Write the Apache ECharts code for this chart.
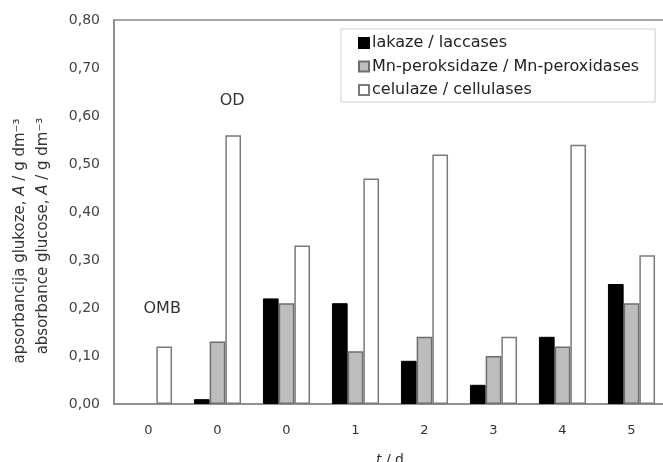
<!DOCTYPE html>
<html>
<head>
<meta charset="utf-8">
<script src="https://cdn.jsdelivr.net/npm/echarts@6/dist/echarts.min.js"></script>
<style>html,body{margin:0;padding:0;background:#fff;overflow:hidden;}#c{width:663px;height:462px;}</style>
</head>
<body>
<div id="c"></div>
<script>
const categories = ['0', '0', '0', '1', '2', '3', '4', '5'];
const laccases = [null, 0.01, 0.22, 0.21, 0.09, 0.04, 0.14, 0.25];
const mnPeroxidases = [null, 0.13, 0.21, 0.11, 0.14, 0.10, 0.12, 0.21];
const cellulases = [0.12, 0.56, 0.33, 0.47, 0.52, 0.14, 0.54, 0.31];
const yTicks = [0, 0.1, 0.2, 0.3, 0.4, 0.5, 0.6, 0.7, 0.8];
const seriesNames = ['lakaze / laccases', 'Mn-peroksidaze / Mn-peroxidases', 'celulaze / cellulases'];

const FONT = 'DejaVu Sans, Verdana, sans-serif';
const TXT = '#333';
const chart = echarts.init(document.getElementById('c'), null, {renderer: 'canvas'});

const barW = 15.7;
const option = {
  animation: false,
  backgroundColor: '#fff',
  textStyle: {fontFamily: FONT},
  grid: {left: 114, top: 20, bottom: 58, width: 552, outerBoundsMode: 'none', containLabel: false,
    show: true, borderColor: '#8a8a8a', borderWidth: 1.5, backgroundColor: 'transparent'},
  xAxis: {
    type: 'category', data: categories,
    axisLine: {show: true, lineStyle: {color: '#8a8a8a', width: 1.5}}, axisTick: {show: false}, splitLine: {show: false},
    axisLabel: {show: true, margin: 20, fontSize: 13, color: TXT, fontFamily: FONT},
    name: '{i|t} / d', nameLocation: 'middle', nameGap: 49,
    nameTextStyle: {fontSize: 14, color: TXT, fontFamily: FONT, rich: {i: {fontStyle: 'italic', fontSize: 14, color: TXT, fontFamily: FONT}}}
  },
  yAxis: {
    type: 'value', min: yTicks[0], max: yTicks[yTicks.length - 1], interval: 0.1,
    axisLine: {show: true, lineStyle: {color: '#8a8a8a', width: 1.5}}, axisTick: {show: false}, splitLine: {show: false},
    axisLabel: {margin: 14, fontSize: 14, color: '#444', fontFamily: FONT, formatter: v => v.toFixed(2).replace('.', ',')}
  },
  legend: {
    orient: 'vertical', left: 341, top: 29, itemWidth: 10, itemHeight: 10, itemGap: 7.5,
    padding: [6, 16, 4, 17], borderColor: '#cfcfcf', borderWidth: 1, backgroundColor: '#fff',
    textStyle: {fontSize: 16, color: '#222', fontFamily: FONT, padding: [0, 0, 0, -2]},
    icon: 'rect', data: seriesNames
  },
  series: [
    {name: seriesNames[0], type: 'bar', data: laccases, barWidth: barW, barGap: '0%',
      itemStyle: {color: '#000', borderColor: '#000', borderWidth: 1}},
    {name: seriesNames[1], type: 'bar', data: mnPeroxidases, barWidth: barW, barGap: '0%',
      itemStyle: {color: '#bdbdbd', borderColor: '#6e6e6e', borderWidth: 1.5}},
    {name: seriesNames[2], type: 'bar', data: cellulases, barWidth: barW, barGap: '0%',
      itemStyle: {color: '#fff', borderColor: '#7a7a7a', borderWidth: 1.5},
      markPoint: {
        symbol: 'rect', symbolSize: 0, silent: true,
        label: {show: true, position: 'inside', fontSize: 16, color: TXT, fontFamily: FONT, formatter: p => p.name},
        data: [
          {name: 'OMB', coord: [0, 0.198], label: {offset: [-2, 0]}},
          {name: 'OD', coord: [1, 0.631], label: {offset: [-1, 0]}}
        ]
      }}
  ],
  graphic: [
    {type: 'text', x: 20, y: 241, rotation: Math.PI / 2,
      style: {text: 'apsorbancija glukoze, {i|A} / g dm⁻³', align: 'center', verticalAlign: 'middle', fontSize: 15, fill: TXT, fontFamily: FONT,
        rich: {i: {fontStyle: 'italic', fontSize: 15, fill: TXT, fontFamily: FONT}}}},
    {type: 'text', x: 43, y: 236, rotation: Math.PI / 2,
      style: {text: 'absorbance glucose, {i|A} / g dm⁻³', align: 'center', verticalAlign: 'middle', fontSize: 15, fill: TXT, fontFamily: FONT,
        rich: {i: {fontStyle: 'italic', fontSize: 15, fill: TXT, fontFamily: FONT}}}}
  ]
};
chart.setOption(option);
</script>
</body>
</html>
